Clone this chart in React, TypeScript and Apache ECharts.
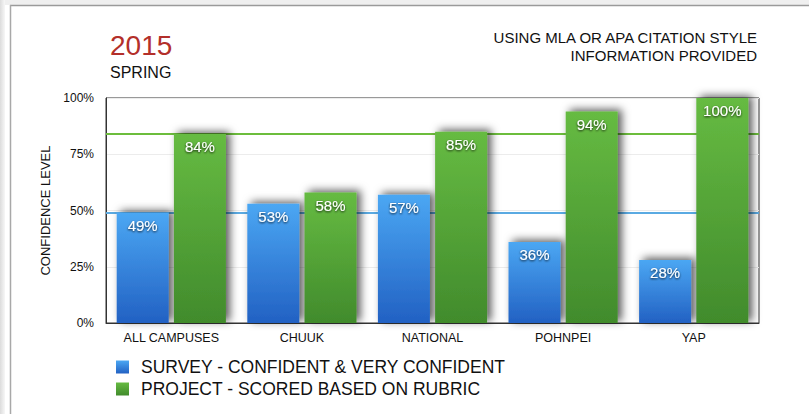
import React, { useEffect, useRef } from "react";
import * as echarts from "echarts";

const categories = ["ALL CAMPUSES", "CHUUK", "NATIONAL", "POHNPEI", "YAP"];
const surveyValues = [49, 53, 57, 36, 28];
const projectValues = [84, 58, 85, 94, 100];
const yTicks = [0, 25, 50, 75, 100];
const seriesNames = ["SURVEY - CONFIDENT & VERY CONFIDENT", "PROJECT - SCORED BASED ON RUBRIC"];
const titleYear = "2015";
const titleTerm = "SPRING";
const subtitleLines = ["USING MLA OR APA CITATION STYLE", "INFORMATION PROVIDED"];

const FONT = "'Liberation Sans', Arial, Helvetica, sans-serif";

export default function App() {
  const ref = useRef<HTMLDivElement>(null);
  useEffect(() => {
    if (!ref.current) return;
    const chart = echarts.init(ref.current, null, { renderer: "svg" });
    const blue = new echarts.graphic.LinearGradient(0, 0, 0, 1, [
      { offset: 0, color: "#4ba7f3" },
      { offset: 1, color: "#2261c3" },
    ]);
    const green = new echarts.graphic.LinearGradient(0, 0, 0, 1, [
      { offset: 0, color: "#66bb42" },
      { offset: 1, color: "#418b2c" },
    ]);
    const label = {
      show: true,
      position: "insideTop" as const,
      distance: 5,
      formatter: "{c}%",
      color: "#fff",
      fontSize: 15,
      fontFamily: FONT,
      textShadowColor: "rgba(0,0,0,0.85)",
      textShadowBlur: 2,
      textShadowOffsetY: 1,
    };
    const shadow = {
      shadowBlur: 9,
      shadowColor: "rgba(0,0,0,0.65)",
      shadowOffsetX: 4,
      shadowOffsetY: -2,
    };
    chart.setOption({
      animation: false,
      backgroundColor: "#fff",
      textStyle: { fontFamily: FONT },
      graphic: [
        { type: "rect", shape: { x: 0, y: 0, width: 809, height: 5 }, style: { fill: "#efefef" }, silent: true },
        {
          type: "rect",
          shape: { x: 0, y: 0, width: 5, height: 414 },
          style: {
            fill: new echarts.graphic.LinearGradient(0, 0, 1, 0, [
              { offset: 0, color: "#dcdcdc" },
              { offset: 1, color: "#f7f7f7" },
            ]),
          },
          silent: true,
        },
        { type: "line", shape: { x1: 10, y1: 5.5, x2: 809, y2: 5.5 }, style: { stroke: "#9a9a9a", lineWidth: 1.5 }, silent: true },
        { type: "line", shape: { x1: 10.5, y1: 5, x2: 10.5, y2: 414 }, style: { stroke: "#a8a8a8", lineWidth: 1.5 }, silent: true },
        {
          type: "text",
          x: 110,
          y: 45,
          style: { text: titleYear, fill: "#b32f2a", fontSize: 28, fontFamily: FONT, verticalAlign: "middle", align: "left" },
        },
        {
          type: "text",
          x: 110,
          y: 72,
          style: { text: titleTerm, fill: "#111", fontSize: 16, fontFamily: FONT, verticalAlign: "middle", align: "left" },
        },
        {
          type: "text",
          x: 757,
          y: 37,
          style: { text: subtitleLines[0], fill: "#111", fontSize: 15, fontFamily: FONT, verticalAlign: "middle", align: "right" },
        },
        {
          type: "text",
          x: 757,
          y: 55.5,
          style: { text: subtitleLines[1], fill: "#111", fontSize: 15, fontFamily: FONT, verticalAlign: "middle", align: "right" },
        },
      ],
      legend: {
        orient: "vertical",
        left: 116,
        top: 358,
        padding: 0,
        itemWidth: 13,
        itemHeight: 13,
        itemGap: 4,
        icon: "rect",
        selectedMode: false,
        textStyle: { fontSize: 17.5, color: "#111", fontFamily: FONT, padding: [0, 0, 0, 7] },
        data: seriesNames,
      },
      grid: {
        left: 106,
        right: 50,
        top: 98,
        bottom: 91,
        show: true,
        borderColor: "#333",
        borderWidth: 1,
        backgroundColor: "transparent",
      },
      xAxis: {
        type: "category",
        data: categories,
        axisTick: { show: false },
        axisLine: { lineStyle: { color: "#333" } },
        axisLabel: { color: "#111", fontSize: 12.5, margin: 8, fontFamily: FONT },
      },
      yAxis: {
        type: "value",
        min: yTicks[0],
        max: yTicks[yTicks.length - 1],
        interval: yTicks[1] - yTicks[0],
        name: "CONFIDENCE LEVEL",
        nameLocation: "middle",
        nameGap: 51,
        nameTextStyle: { fontSize: 13, color: "#111", fontFamily: FONT },
        axisLine: { show: true, lineStyle: { color: "#333" } },
        axisTick: { show: false },
        axisLabel: { formatter: "{value}%", color: "#111", fontSize: 12, margin: 12, fontFamily: FONT },
        splitLine: { lineStyle: { color: "#ececec" } },
      },
      series: [
        {
          name: seriesNames[0],
          type: "bar",
          data: surveyValues,
          barWidth: 52,
          barGap: "10%",
          itemStyle: { color: blue, ...shadow },
          label,
          markLine: {
            silent: true,
            z: 1,
            symbol: "none",
            label: { show: false },
            lineStyle: { color: "#5aaae2", width: 2, type: "solid" },
            data: [{ yAxis: surveyValues[0] }],
          },
        },
        {
          name: seriesNames[1],
          type: "bar",
          data: projectValues,
          barWidth: 52,
          barGap: "10%",
          itemStyle: { color: green, ...shadow },
          label,
          markLine: {
            silent: true,
            z: 1,
            symbol: "none",
            label: { show: false },
            lineStyle: { color: "#6cbd3c", width: 2, type: "solid" },
            data: [{ yAxis: projectValues[0] }],
          },
        },
      ],
    });
    return () => chart.dispose();
  }, []);
  return (
    <div
      ref={ref}
      style={{ position: "fixed", left: 0, top: 0, width: 809, height: 414 }}
    />
  );
}
